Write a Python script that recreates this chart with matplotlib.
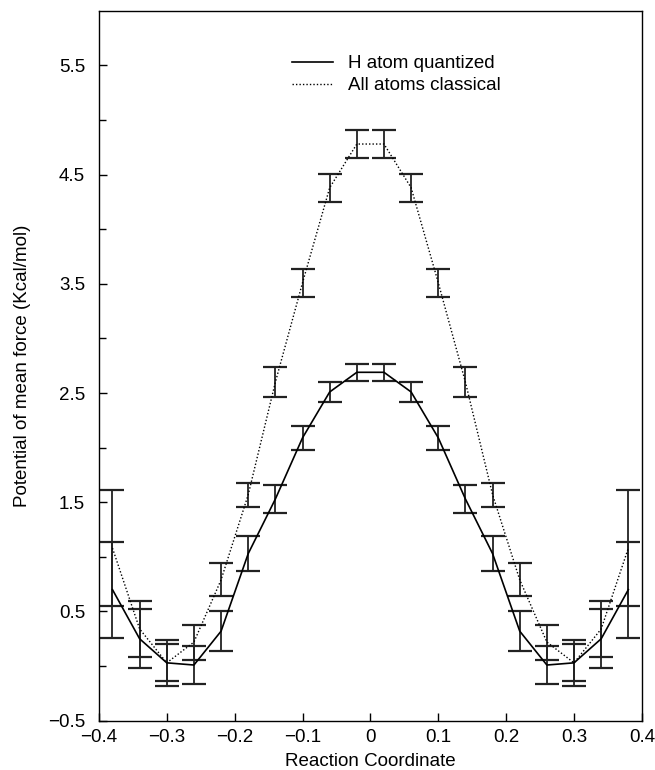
import matplotlib
matplotlib.use("Agg")
import matplotlib.pyplot as plt
from matplotlib.ticker import FixedLocator, FuncFormatter

plt.rcParams["font.family"] = ["Liberation Sans", "DejaVu Sans"]

# reaction coordinate of each window
coord = [-0.38, -0.34, -0.30, -0.26, -0.22, -0.18, -0.14, -0.10, -0.06, -0.02,
         0.02, 0.06, 0.10, 0.14, 0.18, 0.22, 0.26, 0.30, 0.34, 0.38]

# H atom quantized
quant = [0.70, 0.25, 0.03, 0.01, 0.32, 1.03, 1.53, 2.09, 2.51, 2.69,
         2.69, 2.51, 2.09, 1.53, 1.03, 0.32, 0.01, 0.03, 0.25, 0.70]
quant_err = [0.44, 0.27, 0.17, 0.17, 0.18, 0.16, 0.13, 0.11, 0.09, 0.08,
             0.08, 0.09, 0.11, 0.13, 0.16, 0.18, 0.17, 0.17, 0.27, 0.44]

# all atoms classical
classic = [1.08, 0.34, 0.03, 0.22, 0.79, 1.57, 2.60, 3.51, 4.38, 4.78,
           4.78, 4.38, 3.51, 2.60, 1.57, 0.79, 0.22, 0.03, 0.34, 1.08]
classic_err = [0.53, 0.26, 0.21, 0.16, 0.15, 0.11, 0.14, 0.13, 0.13, 0.13,
               0.13, 0.13, 0.13, 0.14, 0.11, 0.15, 0.16, 0.21, 0.26, 0.53]

xticks = [-0.4, -0.3, -0.2, -0.1, 0.0, 0.1, 0.2, 0.3, 0.4]
yticks = [-0.5, 0.5, 1.5, 2.5, 3.5, 4.5, 5.5]
yminor = [0, 1, 2, 3, 4, 5]

fig = plt.figure(figsize=(6.55, 7.70), dpi=100)
ax = fig.add_axes([0.151, 0.064, 0.829, 0.922])

ax.errorbar(coord, quant, yerr=quant_err, color="black", lw=1.2,
            ecolor="#222222", elinewidth=1.3, capsize=8.6, capthick=1.6,
            label="H atom quantized")
ax.errorbar(coord, classic, yerr=classic_err, color="black", lw=1.0,
            ls=(0, (1, 1.5)), ecolor="#222222", elinewidth=1.3, capsize=8.6,
            capthick=1.6, label="All atoms classical")

ax.set_xlim(-0.4, 0.4)
ax.set_ylim(-0.5, 6.0)
ax.set_xticks(xticks)
ax.set_yticks(yticks)
ax.yaxis.set_minor_locator(FixedLocator(yminor))
ax.xaxis.set_major_formatter(FuncFormatter(
    lambda v, p: "0" if abs(v) < 1e-9 else f"{v:.1f}".replace("-", "\u2212")))
ax.yaxis.set_major_formatter(FuncFormatter(
    lambda v, p: f"{v:.1f}".replace("-", "\u2212")))
ax.tick_params(direction="in", labelsize=13.5, length=6, width=1,
               top=False, right=False)
ax.tick_params(axis="y", pad=10)
ax.tick_params(axis="x", pad=6)
ax.tick_params(which="minor", direction="in", length=5, width=1,
               top=False, right=False)
for s in ax.spines.values():
    s.set_linewidth(1.0)

ax.set_xlabel("Reaction Coordinate", fontsize=13.5, labelpad=5)
ax.set_ylabel("Potential of mean force (Kcal/mol)", fontsize=13.5, labelpad=12)

handles, labels = ax.get_legend_handles_labels()
handles = [h[0] for h in handles]
ax.legend(handles, labels, loc="upper left", bbox_to_anchor=(0.342, 0.948),
          borderaxespad=0, frameon=False, fontsize=13.5, handlelength=2.2,
          handletextpad=0.8, labelspacing=0.25)

fig.savefig("out.png", dpi=100)
